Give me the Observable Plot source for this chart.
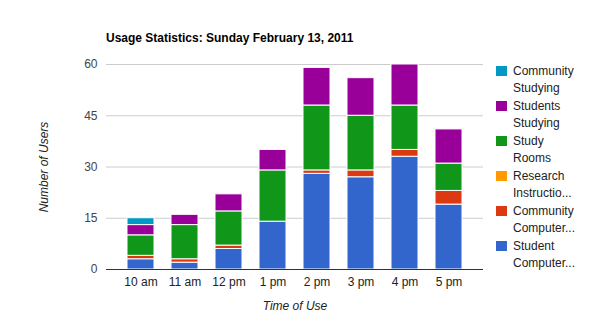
<!DOCTYPE html>
<html><head><meta charset="utf-8">
<script src="https://cdn.jsdelivr.net/npm/d3@7"></script>
<script src="https://cdn.jsdelivr.net/npm/@observablehq/plot@0.6"></script>
<style>
body{margin:0;background:#fff;font-family:Arial,"Liberation Sans",sans-serif;}
#wrap{position:relative;width:590px;height:332px;}
#title{position:absolute;left:106px;top:31px;font-size:12px;font-weight:bold;color:#000;}
#legend{position:absolute;left:496px;top:63px;font-size:12px;color:#222;}
.item{position:absolute;left:0;width:100px;}
.sw{position:absolute;left:0;top:3px;width:11px;height:10px;}
.lbl{position:absolute;left:17px;top:0;line-height:17px;white-space:nowrap;}
</style></head>
<body><div id="wrap"><div id="chart"></div><div id="title">Usage Statistics: Sunday February 13, 2011</div><div id="legend"></div></div>
<script>
const times = ["10 am","11 am","12 pm","1 pm","2 pm","3 pm","4 pm","5 pm"];
const studentComputers   = [3, 2, 6, 14, 28, 27, 33, 19];
const communityComputers = [1, 1, 1, 0, 1, 2, 2, 4];
const researchInstruction= [0, 0, 0, 0, 0, 0, 0, 0];
const studyRooms         = [6, 10, 10, 15, 19, 16, 13, 8];
const studentsStudying   = [3, 3, 5, 6, 11, 11, 12, 10];
const communityStudying  = [2, 0, 0, 0, 0, 0, 0, 0];
const seriesNames = ["Student Computers","Community Computers","Research Instruction","Study Rooms","Students Studying","Community Studying"];
const seriesColors = ["#3366cc","#dc3912","#ff9900","#109618","#990099","#0099c6"];
const seriesValues = [studentComputers, communityComputers, researchInstruction, studyRooms, studentsStudying, communityStudying];
const legendLabels = [["Community","Studying"],["Students","Studying"],["Study","Rooms"],["Research","Instructio..."],["Community","Computer..."],["Student","Computer..."]];
const legendOrder = [5,4,3,2,1,0];
const yTicks = [0,15,30,45,60];

const data = [];
seriesNames.forEach((s,i)=>times.forEach((t,j)=>{ if (seriesValues[i][j] > 0) data.push({time:t, series:s, value:seriesValues[i][j]}); }));

const chart = Plot.plot({
  width: 590, height: 332,
  marginLeft: 106, marginRight: 107, marginTop: 64, marginBottom: 63,
  style: {fontFamily: 'Arial,"Liberation Sans",sans-serif', fontSize: "12px", color: "#444", background: "#fff"},
  x: {domain: times, padding: 0.38, label: null},
  y: {domain: [0,60], ticks: yTicks, label: null},
  color: {domain: seriesNames, range: seriesColors},
  marks: [
    Plot.gridY(yTicks.filter(d=>d>0), {stroke: "#ccc", strokeOpacity: 1}),
    Plot.barY(data, Plot.stackY({x: "time", y: "value", fill: "series", order: seriesNames, stroke: "white", strokeWidth: 1})),
    Plot.ruleY([0], {stroke: "#333", strokeWidth: 1}),
    Plot.axisY(yTicks, {tickSize: 0, tickPadding: 9, fill: "#444", label: null}),
    Plot.axisX({tickSize: 0, tickPadding: 8, fill: "#222", label: null}),
    Plot.text(["Number of Users"], {frameAnchor: "left", textAnchor: "middle", dx: -62, rotate: -90, fontStyle: "italic", fill: "#222", fontSize: 12}),
    Plot.text(["Time of Use"], {frameAnchor: "bottom", dy: 40, fontStyle: "italic", fill: "#222", fontSize: 12})
  ]
});
document.getElementById("chart").appendChild(chart);

const leg = document.getElementById("legend");
legendOrder.forEach((si,k)=>{
  const it = document.createElement("div"); it.className="item"; it.style.top = (k*35)+"px";
  const sw = document.createElement("div"); sw.className="sw"; sw.style.background = seriesColors[si];
  const lb = document.createElement("div"); lb.className="lbl"; lb.innerHTML = legendLabels[k].join("<br>");
  it.appendChild(sw); it.appendChild(lb); leg.appendChild(it);
});
</script></body></html>
